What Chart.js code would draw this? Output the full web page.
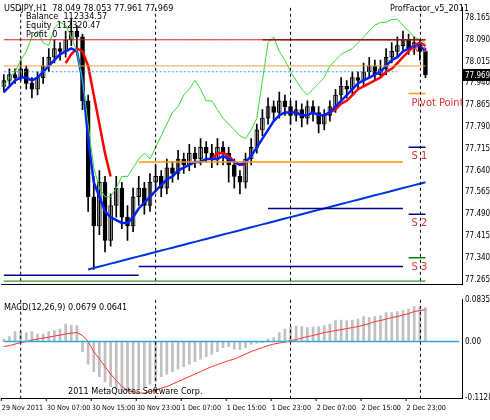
<!DOCTYPE html><html><head><meta charset="utf-8">
<script src="https://cdn.jsdelivr.net/npm/chart.js@4"></script>
<style>body{margin:0;background:#fff;width:490px;height:420px;overflow:hidden;font-family:Tahoma,"DejaVu Sans",sans-serif}
#a{position:absolute;left:0;top:0}#b{position:absolute;left:0;top:292px}</style></head><body>
<div id="a" style="width:490px;height:292px"><canvas id="c1"></canvas></div>
<div id="b" style="width:490px;height:128px"><canvas id="c2"></canvas></div>
<script>
const close=[77.95,77.97,77.96,77.99,77.94,77.92,77.96,78.00,78.03,78.06,78.05,78.09,78.12,78.10,77.88,77.55,77.45,77.60,77.40,77.52,77.58,77.48,77.45,77.55,77.58,77.52,77.60,77.62,77.58,77.65,77.63,77.68,77.66,77.70,77.68,77.72,77.70,77.68,77.72,77.70,77.66,77.62,77.60,77.68,77.72,77.78,77.82,77.86,77.84,77.88,77.86,77.83,77.85,77.82,77.86,77.84,77.80,77.83,77.86,77.90,77.93,77.92,77.96,77.95,77.98,78.00,77.97,77.99,78.03,78.05,78.07,78.09,78.06,78.08,78.05,77.969];
const open=[77.93,77.95,77.97,77.96,77.99,77.94,77.92,77.96,78.00,78.03,78.06,78.05,78.09,78.12,78.10,77.88,77.55,77.45,77.60,77.40,77.52,77.58,77.48,77.45,77.55,77.58,77.52,77.60,77.62,77.58,77.65,77.63,77.68,77.66,77.70,77.68,77.72,77.70,77.68,77.72,77.70,77.66,77.62,77.60,77.68,77.72,77.78,77.82,77.86,77.84,77.88,77.86,77.83,77.85,77.82,77.86,77.84,77.80,77.83,77.86,77.90,77.93,77.92,77.96,77.95,77.98,78.00,77.97,77.99,78.03,78.05,78.07,78.09,78.06,78.08,78.05];
const high=[77.97,77.99,77.99,78.02,78.00,77.96,77.98,78.03,78.06,78.09,78.08,78.12,78.16,78.14,78.11,77.90,77.62,77.64,77.62,77.56,77.62,77.60,77.52,77.58,77.62,77.60,77.63,77.66,77.64,77.68,77.67,77.71,77.70,77.73,77.72,77.75,77.74,77.73,77.75,77.74,77.72,77.68,77.64,77.70,77.75,77.80,77.85,77.89,77.88,77.91,77.90,77.88,77.88,77.87,77.88,77.88,77.86,77.85,77.88,77.92,77.96,77.95,77.98,77.98,78.01,78.03,78.02,78.02,78.06,78.08,78.10,78.12,78.11,78.10,78.09,78.06];
const low=[77.91,77.93,77.94,77.95,77.92,77.89,77.90,77.94,77.98,78.01,78.02,78.03,78.07,78.06,77.85,77.50,77.30,77.42,77.36,77.38,77.48,77.44,77.40,77.43,77.52,77.49,77.50,77.57,77.55,77.56,77.60,77.61,77.63,77.64,77.65,77.66,77.67,77.65,77.66,77.66,77.60,77.58,77.56,77.58,77.66,77.70,77.76,77.80,77.81,77.82,77.83,77.80,77.81,77.79,77.80,77.81,77.77,77.78,77.81,77.84,77.88,77.89,77.90,77.92,77.93,77.96,77.95,77.96,77.97,78.01,78.03,78.05,78.04,78.04,78.02,77.96];
const blueMA=[77.91,77.93,77.95,77.96,77.96,77.95,77.96,77.98,78.00,78.02,78.04,78.05,78.06,78.05,77.95,77.75,77.60,77.55,77.50,77.48,77.47,77.46,77.46,77.48,77.51,77.53,77.55,77.57,77.59,77.61,77.62,77.64,77.65,77.66,77.67,77.67,77.68,77.68,77.68,77.69,77.68,77.67,77.66,77.67,77.69,77.72,77.75,77.78,77.81,77.83,77.84,77.84,77.84,77.83,77.83,77.84,77.83,77.83,77.84,77.86,77.88,77.90,77.92,77.94,77.95,77.96,77.97,77.98,78.00,78.02,78.03,78.05,78.06,78.07,78.07,78.05];
const redMA=[null,null,null,null,null,null,null,null,null,null,null,78.01,78.04,78.06,78.05,78.00,77.90,77.80,77.70,77.62,null,null,null,null,null,null,null,null,null,null,null,null,null,null,null,null,null,77.68,77.70,77.70,77.69,77.67,77.66,77.66,null,null,null,null,null,null,null,null,null,null,null,null,null,77.83,77.84,77.85,77.87,77.88,77.90,77.92,77.93,77.94,77.95,77.96,77.98,77.99,78.01,78.03,78.05,78.07,78.08,78.07];
const greenLine=[77.93,77.96,77.98,78.02,78.05,78.10,78.12,78.08,78.07,78.13,78.15,78.14,78.10,78.05,77.95,77.80,77.65,77.58,77.55,77.55,77.58,77.62,77.62,77.65,77.68,77.70,77.68,77.72,77.76,77.80,77.84,77.86,77.90,77.92,77.95,77.92,77.88,77.88,77.85,77.82,77.80,77.78,77.76,77.75,77.78,77.82,77.95,78.08,78.10,78.05,78.02,77.98,77.95,77.92,77.90,77.92,77.94,77.96,78.00,78.02,78.04,78.05,78.06,78.08,78.10,78.12,78.14,78.15,78.15,78.16,78.16,78.14,78.12,78.10,78.09,78.08];
const macdHist=[0.005,0.01,0.02,0.02,0.018,0.02,0.015,0.015,0.02,0.022,0.025,0.035,0.033,0.032,-0.02,-0.045,-0.06,-0.07,-0.08,-0.09,-0.095,-0.1,-0.1,-0.098,-0.095,-0.09,-0.085,-0.08,-0.07,-0.065,-0.06,-0.055,-0.05,-0.045,-0.04,-0.035,-0.03,-0.025,-0.02,-0.012,-0.01,-0.015,-0.016,-0.012,-0.005,-0.003,-0.002,0.005,0.008,0.018,0.025,0.03,0.031,0.03,0.028,0.029,0.03,0.032,0.035,0.042,0.043,0.042,0.043,0.045,0.05,0.048,0.05,0.052,0.058,0.058,0.06,0.062,0.065,0.07,0.07,0.068];
const macdSignal=[-0.01,-0.008,-0.005,-0.002,0,0.003,0.005,0.007,0.009,0.011,0.013,0.015,0.017,0.018,0.012,0,-0.02,-0.035,-0.05,-0.065,-0.078,-0.09,-0.097,-0.101,-0.103,-0.103,-0.1,-0.097,-0.093,-0.09,-0.085,-0.08,-0.075,-0.07,-0.065,-0.06,-0.055,-0.05,-0.046,-0.042,-0.038,-0.035,-0.03,-0.025,-0.02,-0.016,-0.012,-0.008,-0.005,-0.003,-0.001,0.002,0.004,0.007,0.01,0.012,0.015,0.018,0.02,0.022,0.024,0.026,0.028,0.03,0.033,0.036,0.04,0.042,0.045,0.048,0.05,0.053,0.056,0.06,0.062,0.064];
const tickLabels=["29 Nov 2011","30 Nov 07:00","30 Nov 15:00","30 Nov 23:00","1 Dec 07:00","1 Dec 15:00","1 Dec 23:00","2 Dec 07:00","2 Dec 15:00","2 Dec 23:00"];
const priceTicks=[78.165,78.090,78.015,77.940,77.865,77.790,77.715,77.640,77.565,77.490,77.415,77.340,77.265];
const macdTicks=[0.0835,0,-0.1128];
const levels={R1:78.09,"Pivot Point":77.905,S1:77.72,S2:77.49,S3:77.34};
const N=close.length, SLOTS=N+6, idx=[...Array(N).keys()], slots=[...Array(SLOTS).keys()];
const lab=i=>i%8===0&&tickLabels[i/8]?tickLabels[i/8]:'';
const bull=idx.map(i=>close[i]>=open[i]);
const FF='"DejaVu Sans Condensed", "Liberation Sans Narrow", "Liberation Sans", sans-serif';
const font={family:FF,size:8};
const AXW=28;
const lvl=(v,from,to)=>idx.map(i=>i>=from&&i<=to?v:null);
const sepPlugin={id:'sep',afterDatasetsDraw(ch){const c=ch.ctx,a=ch.chartArea;c.save();c.strokeStyle='#000';c.setLineDash([3,3]);c.lineWidth=1;
[3,27,51,75].forEach(i=>{const x=ch.scales.x.getPixelForValue(i)-(i===75?5:0);c.beginPath();c.moveTo(x,a.top);c.lineTo(x,a.bottom);c.stroke();});c.restore();}};
const levelPlugin={id:'lv',afterDatasetsDraw(ch){const c=ch.ctx,y=ch.scales.y,a=ch.chartArea;c.save();c.font='11px '+FF;c.fillStyle='#e03030';
for(const k in levels){c.fillText(k==='R1'?'R 1':k.replace(/S(\d)/,'S $1'),ch.scales.x.getPixelForValue(72)+3,y.getPixelForValue(levels[k])+12);}
c.font='9px '+FF;c.fillStyle='#000';c.fillText('USDJPY,H1  78.049 78.053 77.961 77.969',4,11);
c.fillText('Balance  112334.57',26,19);c.fillText('Equity  112320.47',26,28);c.fillText('Profit  0',26,37);
c.fillText('ProfFactor_v5_2011',a.right-72,11);
const py=y.getPixelForValue(77.969);c.fillStyle='#000';c.fillRect(a.right+1,py-6,28,12);c.fillStyle='#fff';c.font='8px '+FF;c.fillText('77.969',a.right+3,py+3);
c.restore();}};
new Chart('c1',{data:{labels:slots.map(lab),datasets:[
{type:'line',data:lvl(levels.R1,46,75),borderColor:'#8b1a1a',borderWidth:1.5,pointRadius:0},
{type:'line',data:lvl(78.09,0,75),borderColor:'#cc2020',borderWidth:1,pointRadius:0},
{type:'line',data:lvl(78.0,0,75),borderColor:'#e8a040',borderWidth:1,pointRadius:0},
{type:'line',data:lvl(77.98,0,70),borderColor:'#3399ff',borderWidth:1,borderDash:[2,2],pointRadius:0},
{type:'line',data:lvl(levels['Pivot Point'],72,75),borderColor:'#ff9900',borderWidth:1.5,pointRadius:0},
{type:'line',data:lvl(77.67,24,71),borderColor:'#ff9900',borderWidth:1.5,pointRadius:0},
{type:'line',data:lvl(levels.S1,72,75),borderColor:'#000090',borderWidth:1.5,pointRadius:0},
{type:'line',data:lvl(levels.S2,72,75),borderColor:'#000090',borderWidth:1.5,pointRadius:0},
{type:'line',data:lvl(77.51,47,71),borderColor:'#000090',borderWidth:1.5,pointRadius:0},
{type:'line',data:lvl(77.31,24,71),borderColor:'#000090',borderWidth:1.5,pointRadius:0},
{type:'line',data:lvl(levels.S3,72,75),borderColor:'#008000',borderWidth:1.5,pointRadius:0},
{type:'line',data:lvl(77.26,0,75),borderColor:'#008000',borderWidth:1,pointRadius:0},
{type:'line',data:lvl(77.28,0,24),borderColor:'#000090',borderWidth:1.5,pointRadius:0},
{type:'line',data:idx.map(i=>i<15?null:77.30+(i-15)*0.005),borderColor:'#0033dd',borderWidth:2,pointRadius:0},
{type:'line',data:greenLine,borderColor:'#33dd33',borderWidth:1,pointRadius:0},
{type:'line',data:blueMA,borderColor:'#0020ff',borderWidth:2.5,pointRadius:0},
{type:'line',data:redMA,borderColor:'#ff0000',borderWidth:2.5,pointRadius:0},
{type:'bar',data:idx.map(i=>[low[i],high[i]]),backgroundColor:'#000',barThickness:1,grouped:false},
{type:'bar',data:idx.map(i=>[open[i],close[i]]),backgroundColor:idx.map(i=>bull[i]?'#fff':'#000'),borderColor:'#000',borderWidth:1,borderSkipped:false,barThickness:4,grouped:false}
]},options:{responsive:true,maintainAspectRatio:false,animation:false,layout:{padding:{left:1,top:2,right:0,bottom:0}},plugins:{legend:{display:false},tooltip:{enabled:false}},
scales:{x:{type:'category',offset:true,grid:{display:false},border:{color:'#000'},ticks:{display:false}},
y:{position:'right',min:77.25,max:78.2,afterFit:s=>{s.width=AXW},grid:{display:false,drawTicks:false,tickLength:0},border:{color:'#000'},
afterBuildTicks:s=>{s.ticks=priceTicks.map(v=>({value:v}))},ticks:{font,color:'#000',padding:3,callback:v=>v.toFixed(3)}}}},plugins:[sepPlugin,levelPlugin]});
const macdPlugin={id:'mc',afterDatasetsDraw(ch){const c=ch.ctx,a=ch.chartArea;c.save();c.font='9px '+FF;c.fillStyle='#000';
c.fillText('MACD(12,26,9) 0.0679 0.0641',4,a.top+10);c.fillText('2011 MetaQuotes Software Corp.',68,a.bottom-4);
c.font='7.2px '+FF;c.strokeStyle='#000';c.setLineDash([]);
slots.forEach(i=>{const t=lab(i);if(!t)return;const x=ch.scales.x.getPixelForValue(i)-3;c.beginPath();c.moveTo(x+0.5,a.bottom);c.lineTo(x+0.5,a.bottom+3);c.stroke();c.fillText(t,x+1,a.bottom+12);});
c.restore();}};
new Chart('c2',{data:{labels:slots.map(lab),datasets:[
{type:'line',data:slots.map(()=>0),borderColor:'#29a8e0',borderWidth:1.5,pointRadius:0},
{type:'line',data:macdSignal,borderColor:'#ff3030',borderWidth:1,pointRadius:0},
{type:'bar',data:macdHist,backgroundColor:'#c0c0c0',barThickness:2}
]},options:{responsive:true,maintainAspectRatio:false,animation:false,layout:{padding:{left:1,top:3,right:0,bottom:14}},plugins:{legend:{display:false},tooltip:{enabled:false}},
scales:{x:{type:'category',offset:true,grid:{display:false},border:{color:'#000'},ticks:{display:false}},
y:{position:'right',min:-0.1128,max:0.0835,afterFit:s=>{s.width=AXW},grid:{display:false,drawTicks:false,tickLength:0},border:{color:'#000'},
afterBuildTicks:s=>{s.ticks=macdTicks.map(v=>({value:v}))},ticks:{font,color:'#000',padding:3,callback:v=>v===0?'0.00':v.toFixed(4)}}}},plugins:[sepPlugin,macdPlugin]});
</script></body></html>
